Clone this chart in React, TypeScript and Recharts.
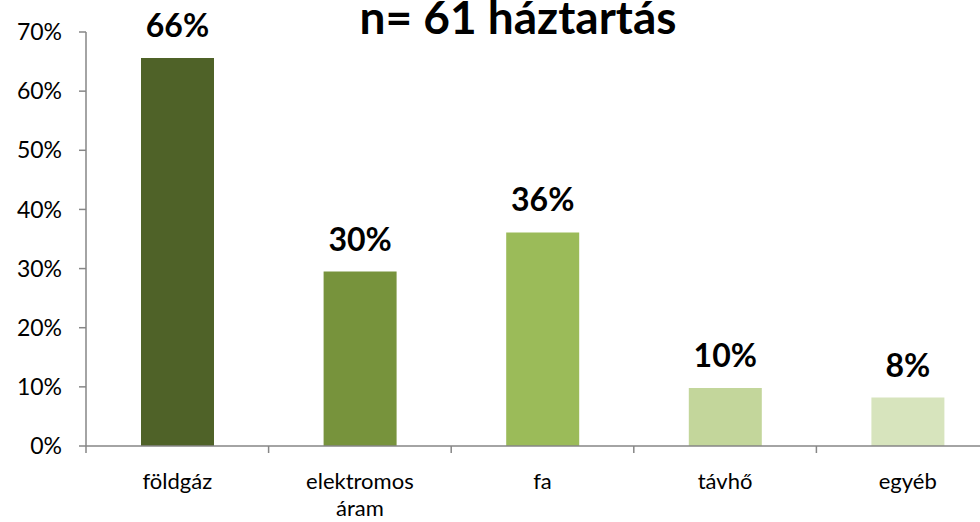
import { BarChart, Bar, XAxis, YAxis, Cell, LabelList } from 'recharts';

const categories = ['földgáz', 'elektromos áram', 'fa', 'távhő', 'egyéb'];
const shares = [65.6, 29.5, 36.1, 9.8, 8.2];
const barColors = ['#4F6228', '#77933C', '#9BBB59', '#C3D69B', '#D7E4BD'];
const yTicks = [0, 10, 20, 30, 40, 50, 60, 70];
const title = 'n= 61 háztartás';

const data = categories.map((name, i) => ({ name, value: shares[i] }));

const FONT = 'Lato, "Open Sans", sans-serif';
const AXIS = '#868686';

const CategoryTick = (props: any) => {
  const { x, y, payload } = props;
  const half = payload.offset ?? 91.3;
  const lines = String(payload.value).split(' ');
  return (
    <g>
      <line x1={x - half} y1={y} x2={x - half} y2={y + 7} stroke={AXIS} strokeWidth={1.5} />
      <text x={x} y={y} textAnchor="middle" fontSize={22} fontFamily={FONT} fill="#000">
        {lines.map((l, i) => (
          <tspan key={i} x={x} dy={i === 0 ? 43 : 27}>{l}</tspan>
        ))}
      </text>
    </g>
  );
};

export default function App() {
  return (
    <div style={{ position: 'absolute', left: 0, top: 0, width: 980, height: 522, overflow: 'hidden', background: '#fff' }}>
      <div
        style={{
          position: 'absolute', left: 0, width: 1036, top: -9, textAlign: 'center',
          fontFamily: FONT, fontWeight: 700, fontSize: 46, color: '#000', lineHeight: '52px',
        }}
      >
        {title}
      </div>
      <BarChart width={1000} height={522} data={data} margin={{ top: 32, right: 1, left: 0, bottom: 0 }} barSize={73}>
        <XAxis
          dataKey="name"
          tick={<CategoryTick />}
          tickLine={false}
          tickSize={0}
          tickMargin={0}
          axisLine={{ stroke: AXIS, strokeWidth: 1.5 }}
          interval={0}
          height={76}
        />
        <YAxis
          width={86}
          domain={[0, 70]}
          ticks={yTicks}
          tickFormatter={(v: number) => `${v}%`}
          tick={{ fontSize: 23, fontFamily: FONT, fill: '#000' }}
          tickSize={7}
          tickMargin={17}
          tickLine={{ stroke: AXIS, strokeWidth: 1.5 }}
          axisLine={{ stroke: AXIS, strokeWidth: 1.5 }}
          interval={0}
        />
        <Bar dataKey="value" isAnimationActive={false}>
          {data.map((d, i) => (
            <Cell key={d.name} fill={barColors[i]} />
          ))}
          <LabelList
            dataKey="value"
            position="top"
            offset={21}
            formatter={(v: any) => `${Math.round(Number(v))}%`}
            style={{ fontSize: 32, fontWeight: 700, fontFamily: FONT, fill: '#000' }}
          />
        </Bar>
      </BarChart>
    </div>
  );
}
